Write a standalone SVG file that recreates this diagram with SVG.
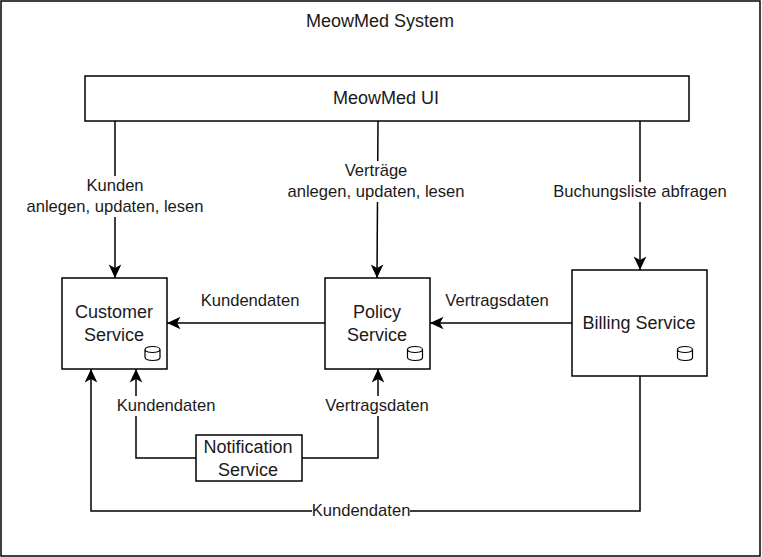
<svg xmlns="http://www.w3.org/2000/svg" width="762" height="557" viewBox="0 0 762 557">
<defs>
<marker id="arrow" markerUnits="userSpaceOnUse" markerWidth="15" markerHeight="15" refX="14" refY="7.5" orient="auto"><path d="M0.5 1.2 L14 7.5 L0.5 13.8 L4 7.5 Z" fill="#000"/></marker>
<g id="db"><path d="M0.5 3.5 C0.5 -0.5 15.5 -0.5 15.5 3.5 V11.5 C15.5 15.5 0.5 15.5 0.5 11.5 Z M0.5 3.5 C0.5 7.5 15.5 7.5 15.5 3.5" fill="none" stroke="#000" stroke-width="1.2"/></g>
</defs>
<style>
.b{fill:#fff;stroke:#000;stroke-width:1.5}
.c{fill:none;stroke:#000;stroke-width:1.5;marker-end:url(#arrow)}
.w{fill:#fff;stroke:none}
text{font-family:"Liberation Sans",Arial,sans-serif;font-size:18px;fill:#1a1a1a;text-anchor:middle}
#labels text{font-size:16.6px}
</style>
<rect width="762" height="557" fill="#fff"/>
<g id="system"><rect class="b" x="1" y="1" width="759" height="555"/><text x="380" y="27">MeowMed System</text></g>
<g id="connectors">
<path class="c" d="M115 121 V278"/>
<path class="c" d="M378 121 L377 278"/>
<path class="c" d="M640 121 V270"/>
<path class="c" d="M325 323 H167"/>
<path class="c" d="M572 323 H430"/>
<path class="c" d="M196 458 H136 V369"/>
<path class="c" d="M302 458 H378 V369"/>
<path class="c" d="M640 376 V511 H91 V369"/>
</g>
<g id="labels">
<rect class="w" x="26" y="176" width="178" height="41"/><text x="115" y="191">Kunden</text><text x="115" y="212">anlegen, updaten, lesen</text>
<rect class="w" x="287" y="161" width="178" height="41"/><text x="376" y="176">Verträge</text><text x="376" y="197">anlegen, updaten, lesen</text>
<rect class="w" x="553" y="182" width="174" height="20"/><text x="640" y="197">Buchungsliste abfragen</text>
<text x="250" y="306">Kundendaten</text>
<text x="497" y="306">Vertragsdaten</text>
<rect class="w" x="116" y="396" width="100" height="20"/><text x="166" y="411">Kundendaten</text>
<rect class="w" x="325" y="396" width="105" height="20"/><text x="377" y="411">Vertragsdaten</text>
<rect class="w" x="312" y="501" width="98" height="20"/><text x="361" y="516">Kundendaten</text>
</g>
<g id="ui"><rect class="b" x="85" y="76" width="604" height="45"/><text x="386" y="104">MeowMed UI</text></g>
<g id="customer"><rect class="b" x="62" y="278" width="105" height="91"/><text x="114" y="318">Customer</text><text x="114" y="341">Service</text><use href="#db" x="144.500" y="346"/></g>
<g id="policy"><rect class="b" x="325" y="278" width="105" height="91"/><text x="377" y="318">Policy</text><text x="377" y="341">Service</text><use href="#db" x="407" y="346"/></g>
<g id="billing"><rect class="b" x="572" y="270" width="135" height="106"/><text x="639" y="329">Billing Service</text><use href="#db" x="677" y="346"/></g>
<g id="notification"><rect class="b" x="196" y="435" width="106" height="46"/><text x="248" y="453">Notification</text><text x="248" y="476">Service</text></g>
</svg>
